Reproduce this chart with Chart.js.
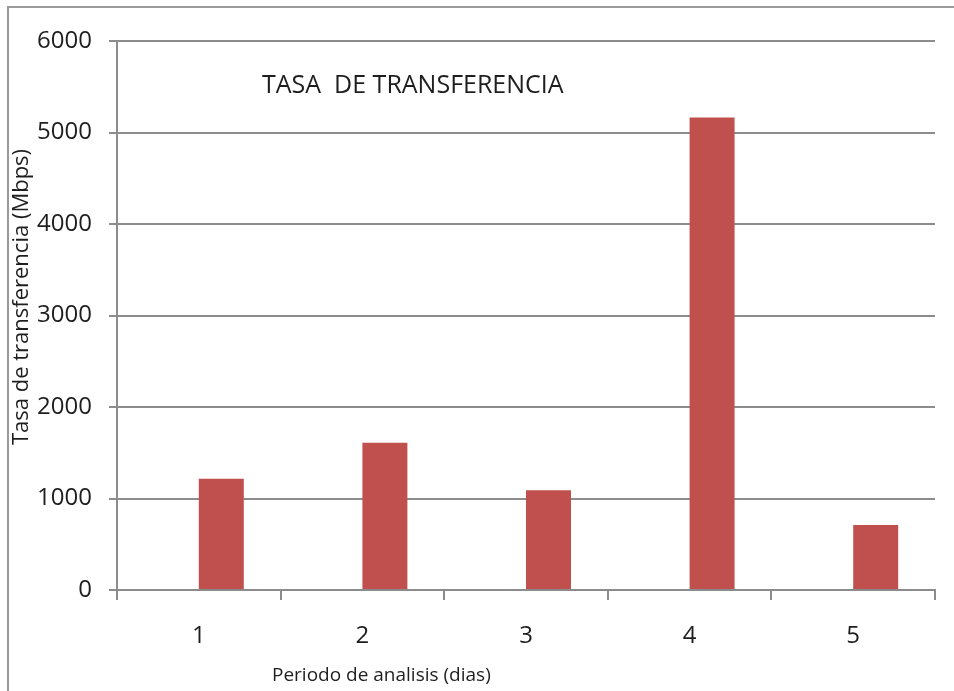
<!DOCTYPE html>
<html>
<head>
<meta charset="utf-8">
<script src="https://cdn.jsdelivr.net/npm/chart.js@4"></script>
<style>
  html, body { margin: 0; padding: 0; background: #fff; }
  #wrap { width: 954px; height: 691px; position: relative; }
</style>
</head>
<body>
<div id="wrap"><canvas id="chart" width="954" height="691"></canvas></div>
<script>
const periods = ['1', '2', '3', '4', '5'];
const rates = [1215, 1609, 1091, 5164, 710];
const emptySeries = [null, null, null, null, null];

const chartTitle = 'TASA  DE TRANSFERENCIA';
const xTitle = 'Periodo de analisis (dias)';
const yTitle = 'Tasa de transferencia (Mbps)';

const font = '"Open Sans", sans-serif';
const textColor = '#1e1e1e';
const gridColor = '#8c8c8c';

const decorations = {
  id: 'decorations',
  beforeDraw(chart) {
    const ctx = chart.ctx;
    ctx.save();
    ctx.fillStyle = '#fff';
    ctx.fillRect(0, 0, chart.width, chart.height);
    ctx.strokeStyle = '#9a9a9a';
    ctx.lineWidth = 2;
    ctx.beginPath();
    ctx.moveTo(8, chart.height);
    ctx.lineTo(8, 7);
    ctx.lineTo(chart.width, 7);
    ctx.stroke();
    ctx.restore();
  },
  afterDraw(chart) {
    const ctx = chart.ctx;
    ctx.save();
    ctx.fillStyle = textColor;
    ctx.textBaseline = 'middle';
    ctx.textAlign = 'left';
    ctx.font = '25px ' + font;
    ctx.fillText(chartTitle, 262, 86);
    ctx.font = '19px ' + font;
    ctx.fillText(xTitle, 272, 676);
    ctx.translate(22, 297);
    ctx.rotate(-Math.PI / 2);
    ctx.textAlign = 'center';
    ctx.font = '22px ' + font;
    ctx.fillText(yTitle, 0, 0);
    ctx.restore();
  }
};

new Chart(document.getElementById('chart'), {
  type: 'bar',
  data: {
    labels: periods,
    datasets: [
      { data: emptySeries, backgroundColor: '#c0504d' },
      { data: rates, backgroundColor: '#c0504d' }
    ]
  },
  options: {
    responsive: false,
    animation: false,
    layout: { padding: { left: 0, top: 41, right: 19, bottom: 0 } },
    datasets: { bar: { categoryPercentage: 0.55, barPercentage: 1.0 } },
    plugins: { legend: { display: false }, tooltip: { enabled: false } },
    scales: {
      x: {
        afterFit(scale) { scale.height = 101; },
        grid: {
          offset: true,
          drawOnChartArea: false,
          color: gridColor,
          lineWidth: 2,
          tickLength: 10
        },
        border: { color: gridColor, width: 2 },
        ticks: { color: textColor, font: { family: font, size: 24 }, padding: 22 }
      },
      y: {
        min: 0,
        max: 6000,
        afterFit(scale) { scale.width = 117; },
        grid: { color: gridColor, lineWidth: 2, tickLength: 8 },
        border: { color: gridColor, width: 2 },
        ticks: {
          stepSize: 1000,
          color: textColor,
          font: { family: font, size: 24 },
          padding: 17,
          callback: (v) => String(v)
        }
      }
    }
  },
  plugins: [decorations]
});
</script>
</body>
</html>
